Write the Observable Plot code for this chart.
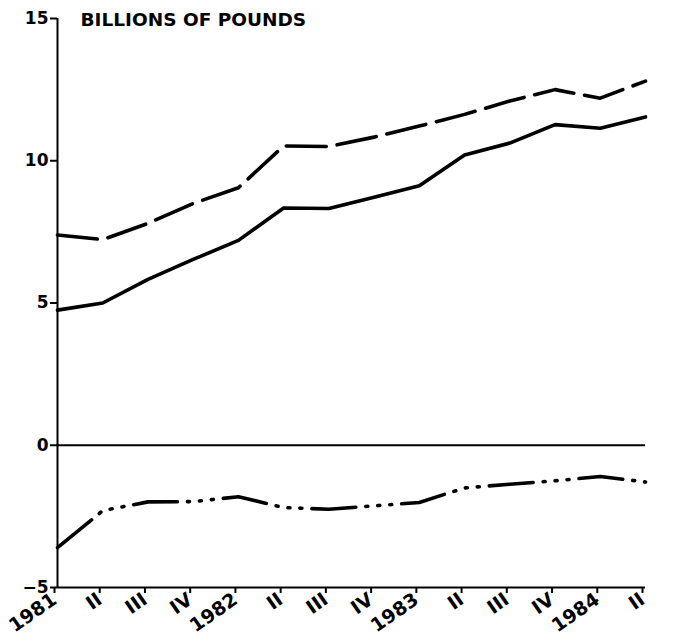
<!DOCTYPE html>
<html><head><meta charset="utf-8">
<script src="https://cdn.jsdelivr.net/npm/d3@7"></script>
<script src="https://cdn.jsdelivr.net/npm/@observablehq/plot@0.6"></script>
<style>body{margin:0;background:#fff}</style>
</head><body><div id="chart"></div>
<script>
const quarters = [0,1,2,3,4,5,6,7,8,9,10,11,12,13];
const quarterLabels = ["1981","II","III","IV","1982","II","III","IV","1983","II","III","IV","1984","II"];
const dashedSeries = [7.39,7.23,7.8,8.5,9.05,10.52,10.5,10.83,11.22,11.63,12.1,12.5,12.2,12.8];
const solidSeries = [4.75,5.0,5.83,6.53,7.2,8.34,8.32,8.72,9.12,10.2,10.62,11.27,11.14,11.54];
const dashDotSeries = [-3.6,-2.3,-1.99,-1.98,-1.81,-2.19,-2.25,-2.13,-2.01,-1.5,-1.37,-1.25,-1.1,-1.29];
const yTicks = [-5,0,5,10,15];
const title = "BILLIONS OF POUNDS";

const data = quarters.map((q,i)=>({q, dashed: dashedSeries[i], solid: solidSeries[i], dd: dashDotSeries[i]}));
const lineStyle = {strokeWidth: 3.6, strokeLinecap: "round", strokeLinejoin: "round", stroke: "#000"};
const chart = Plot.plot({
  width: 677, height: 643,
  marginLeft: 57, marginRight: 32, marginTop: 18, marginBottom: 56,
  style: {fontFamily: "'DejaVu Sans', sans-serif", fontWeight: "bold", color: "#000", background: "#fff", overflow: "visible"},
  x: {domain: [0, 13]},
  y: {domain: [-5, 15]},
  marks: [
    Plot.axisY({ticks: yTicks, tickSize: 7, tickPadding: 2, fontSize: 17, fontWeight: "bold", strokeWidth: 2, label: null}),
    Plot.axisX({ticks: quarters, tickFormat: i => quarterLabels[i], tickRotate: -35, tickSize: 6, tickPadding: 4, dx: -3, fontSize: 19, fontWeight: "bold", textAnchor: "end", lineAnchor: "middle", strokeWidth: 2, label: null}),
    Plot.ruleX([0], {strokeWidth: 2}),
    Plot.ruleY([-5], {strokeWidth: 2}),
    Plot.ruleY([0], {strokeWidth: 1.8}),
    Plot.line(data, {x: "q", y: "dashed", ...lineStyle, strokeDasharray: "40,11"}),
    Plot.line(data, {x: "q", y: "solid", ...lineStyle}),
    Plot.line(data, {x: "q", y: "dd", ...lineStyle, strokeDasharray: "44,10,2,10,2,10,2,10"}),
    Plot.text([title], {frameAnchor: "top-left", dx: 23, dy: 2, text: d => d, textAnchor: "start", lineAnchor: "middle", fontSize: 18.5, fontWeight: "bold"})
  ]
});
document.getElementById("chart").append(chart);
</script>
</body></html>
